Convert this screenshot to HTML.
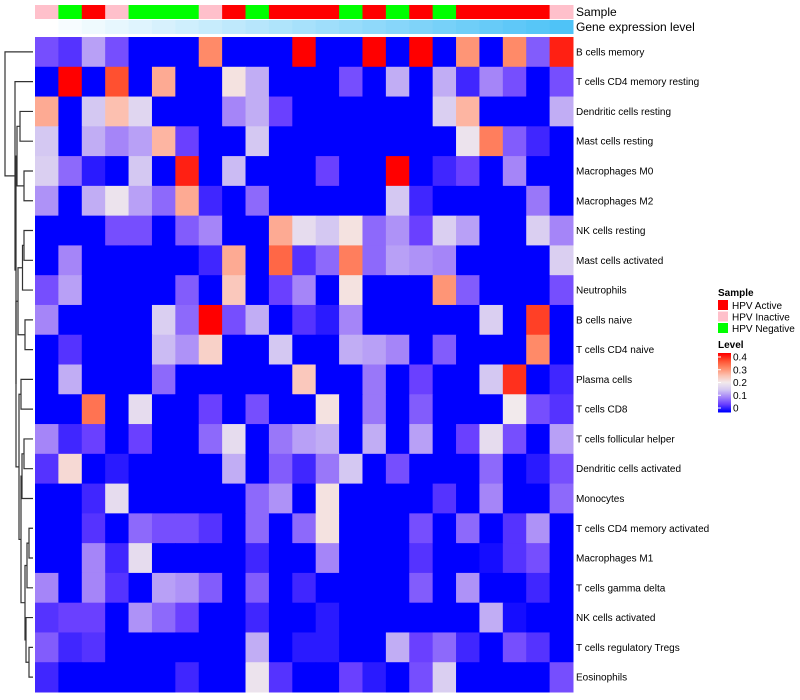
<!DOCTYPE html>
<html><head><meta charset="utf-8">
<style>
body{margin:0;background:#fff;}
svg{display:block;font-family:"Liberation Sans",sans-serif;}
</style></head>
<body>
<svg id="chart" width="800" height="700"></svg>
<script>
const rowNames=["B cells memory","T cells CD4 memory resting","Dendritic cells resting","Mast cells resting","Macrophages M0","Macrophages M2","NK cells resting","Mast cells activated","Neutrophils","B cells naive","T cells CD4 naive","Plasma cells","T cells CD8","T cells follicular helper","Dendritic cells activated","Monocytes","T cells CD4 memory activated","Macrophages M1","T cells gamma delta","NK cells activated","T cells regulatory  Tregs","Eosinophils"];
const sampleGroups=["Inactive","Negative","Active","Inactive","Negative","Negative","Negative","Inactive","Active","Negative","Active","Active","Active","Negative","Active","Negative","Active","Negative","Active","Active","Active","Active","Inactive"];
const values=[
[0.06,0.04,0.12,0.06,0,0,0,0.3,0,0,0,0.4,0,0,0.4,0,0.4,0,0.29,0,0.3,0.07,0.38],
[0,0.4,0,0.35,0,0.27,0,0,0.21,0.13,0,0,0,0.06,0,0.13,0,0.13,0.03,0.1,0.06,0,0.06],
[0.27,0,0.15,0.25,0.17,0,0,0,0.1,0.13,0.05,0,0,0,0,0,0,0.16,0.26,0,0,0,0.13],
[0.15,0,0.13,0.1,0.12,0.26,0.05,0,0,0.15,0,0,0,0,0,0,0,0,0.19,0.31,0.07,0.03,0],
[0.16,0.08,0.02,0,0.15,0,0.38,0,0.14,0,0,0,0.05,0,0,0.4,0,0.03,0.05,0,0.1,0,0],
[0.11,0,0.13,0.19,0.12,0.08,0.27,0.03,0,0.08,0,0,0,0,0,0.15,0.03,0,0,0,0,0.09,0],
[0,0,0,0.06,0.06,0,0.07,0.1,0,0,0.27,0.18,0.15,0.21,0.08,0.11,0.05,0.16,0.12,0,0,0.16,0.1],
[0,0.1,0,0,0,0,0,0.03,0.27,0,0.33,0.04,0.08,0.31,0.08,0.12,0.11,0.1,0,0,0,0,0.16],
[0.06,0.12,0,0,0,0,0.07,0,0.24,0,0.05,0.1,0,0.21,0,0,0,0.29,0.07,0,0,0,0.06],
[0.1,0,0,0,0,0.16,0.08,0.4,0.06,0.13,0,0.04,0.02,0.1,0,0,0,0,0,0.16,0,0.36,0],
[0,0.04,0,0,0,0.14,0.11,0.23,0,0,0.15,0,0,0.13,0.12,0.1,0,0.07,0,0,0,0.3,0],
[0,0.13,0,0,0,0.08,0,0,0,0,0,0.24,0,0,0.09,0,0.05,0,0,0.15,0.37,0,0.03],
[0,0,0.32,0,0.18,0,0,0.05,0,0.06,0,0,0.21,0,0.09,0,0.07,0,0,0,0.2,0.06,0.04],
[0.1,0.03,0.05,0,0.05,0,0,0.08,0.18,0,0.09,0.12,0.13,0,0.13,0,0.12,0,0.05,0.18,0.06,0,0.12],
[0.04,0.22,0,0.02,0,0,0,0,0.13,0,0.07,0.03,0.09,0.15,0,0.06,0,0,0,0.08,0,0.02,0.06],
[0,0,0.03,0.18,0,0,0,0,0,0.08,0.11,0,0.21,0,0,0,0,0.04,0,0.1,0,0,0.08],
[0,0,0.04,0,0.08,0.06,0.06,0.04,0,0.08,0,0.08,0.21,0,0,0,0.06,0,0.08,0,0.04,0.11,0],
[0,0,0.1,0.03,0.18,0,0,0,0,0.03,0,0,0.1,0,0,0,0.04,0,0,0.01,0.04,0.06,0],
[0.1,0,0.1,0.04,0,0.12,0.11,0.07,0,0.07,0,0.03,0,0,0,0,0.07,0,0.11,0,0,0.03,0],
[0.04,0.05,0.05,0,0.11,0.08,0.05,0,0,0.03,0,0,0.02,0,0,0,0,0,0,0.13,0.01,0,0],
[0.07,0.03,0.04,0,0,0,0,0,0,0.13,0,0.02,0.02,0,0,0.13,0.05,0.08,0.03,0,0.06,0.04,0],
[0.03,0,0,0,0,0,0.03,0,0,0.19,0.04,0,0,0.05,0.02,0,0.06,0.16,0,0,0,0,0.06]
];
const levelTicks=[0,0.1,0.2,0.3,0.4];
const groupNames=["Active","Inactive","Negative"];
const groupLabels=["HPV Active","HPV Inactive","HPV Negative"];

const NS="http://www.w3.org/2000/svg";
const svg=document.getElementById('chart');
function mk(tag,attrs,parent){const e=document.createElementNS(NS,tag);for(const k in attrs)e.setAttribute(k,attrs[k]);(parent||svg).appendChild(e);return e;}
const stops=[[0,[0,0,255]],[0.05,[106,64,255]],[0.1,[165,133,248]],[0.15,[212,200,242]],[0.2,[242,234,236]],[0.25,[252,192,176]],[0.3,[255,138,104]],[0.35,[255,80,48]],[0.4,[255,0,0]]];
function colorOf(v){v=Math.max(0,Math.min(0.4,v));for(let i=1;i<stops.length;i++){if(v<=stops[i][0]){const a=stops[i-1],b=stops[i];const t=(v-a[0])/(b[0]-a[0]);const c=a[1].map((x,j)=>Math.round(x+(b[1][j]-x)*t));return `rgb(${c})`;}}return 'rgb(255,0,0)';}
const groupColor={Active:"#ff0000",Inactive:"#ffc0cb",Negative:"#00ff00"};
const X0=35,X1=573,Y0=37,Y1=692;
const nC=values[0].length,nR=values.length;
const cw=(X1-X0)/nC,rh=(Y1-Y0)/nR;
const xOf=c=>X0+c*cw, yOf=r=>Y0+r*rh;

// annotations
sampleGroups.forEach((g,c)=>{
  const r=mk('rect',{x:xOf(c),y:5,width:cw+0.5,height:14,fill:groupColor[g]});
  
  
  const t=c/(nC-1);
  const col=[255+(79-255)*t,255+(195-255)*t,255+(247-255)*t].map(Math.round);
  const r2=mk('rect',{x:xOf(c),y:20,width:cw+0.5,height:14,fill:`rgb(${col})`});
  
  
});
let t=mk('text',{x:576,y:16,'font-size':12,fill:'#000'});t.textContent='Sample';

t=mk('text',{x:576,y:31,'font-size':12,fill:'#000'});t.textContent='Gene expression level';


// cells
values.forEach((row,r)=>row.forEach((v,c)=>{
  const e=mk('rect',{x:xOf(c),y:yOf(r),width:cw+0.5,height:rh+0.5,fill:colorOf(v)});
  
  
}));
rowNames.forEach((n,r)=>{
  const e=mk('text',{x:576,y:yOf(r)+rh/2+3.5,'font-size':10,fill:'#000'});e.textContent=n;
  
  
});

// dendrogram
const tree=[5,0,[15,1,[16,[17,[20,2,3],[24,4,5]],[16,[18,[22.5,[24,6,7],8],[25,9,10]],[19,[21,11,12],[21,[22,[24,13,14],15],[25,[27,[29,16,17],18],[26,19,[29,20,21]]]]]]]]];
const dg=mk('g',{stroke:'#333','stroke-width':1.2,fill:'none'});

function draw(n){
  if(typeof n==='number')return {x:33,y:yOf(n)+rh/2};
  const h=n[0],a=draw(n[1]),b=draw(n[2]);
  mk('path',{d:`M${a.x},${a.y}H${h}V${b.y}H${b.x}`},dg);
  return {x:h,y:(a.y+b.y)/2};
}
draw(tree);

// legend
t=mk('text',{x:718,y:296,'font-size':10,'font-weight':'bold',fill:'#000'});t.textContent='Sample';

groupNames.forEach((g,i)=>{
  const r=mk('rect',{x:718,y:300+i*11.5,width:10,height:10,fill:groupColor[g]});
  
  const tx=mk('text',{x:732,y:309+i*11.5,'font-size':10,fill:'#000'});tx.textContent=groupLabels[i];
  
});
t=mk('text',{x:718,y:348,'font-size':10,'font-weight':'bold',fill:'#000'});t.textContent='Level';

const lb0=353,lb1=412;
for(let i=0;i<60;i++){
  const v=0.4-(i/59)*0.4;
  const r=mk('rect',{x:718,y:lb0+i*(lb1-lb0)/60,width:13,height:(lb1-lb0)/60+0.5,fill:colorOf(v)});
  
}
const ly=v=>lb1-4-(v/0.4)*(lb1-lb0-8);
levelTicks.forEach(v=>{
  const l=mk('line',{x1:718,x2:721,y1:ly(v),y2:ly(v),stroke:'#fff','stroke-width':1});
  
  const tx=mk('text',{x:733,y:ly(v)+3.5,'font-size':10,fill:'#000'});tx.textContent=String(v);
  
});
</script>
</body></html>
